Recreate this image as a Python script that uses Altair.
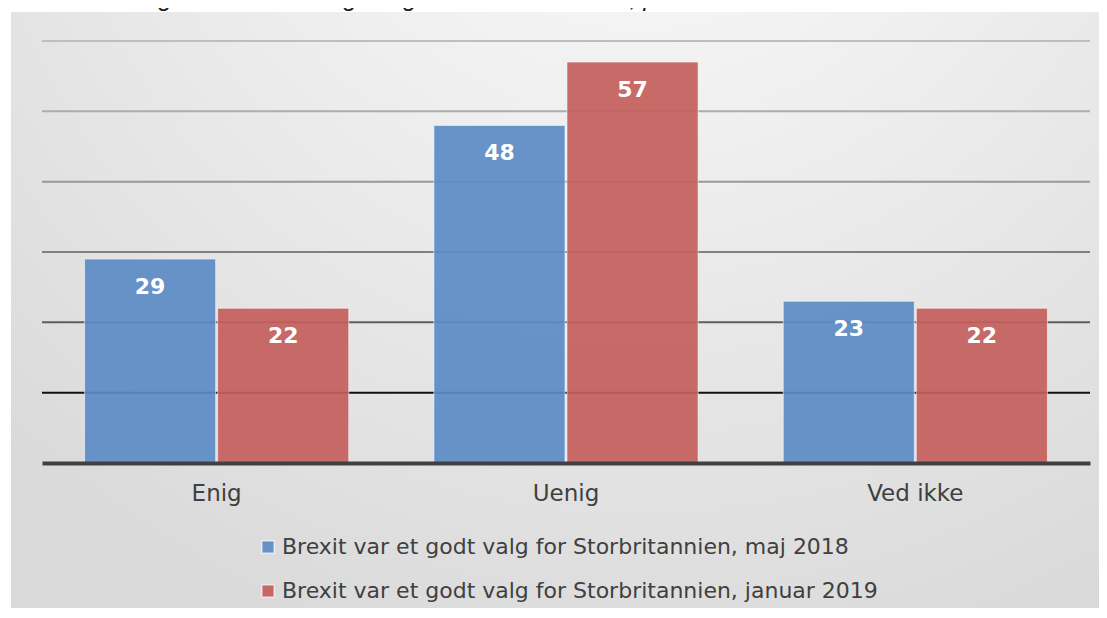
import altair as alt
import pandas as pd

title_text = "Var Brexit et godt eller et dårligt valg for Storbritannien?, pct."
categories = ["Enig", "Uenig", "Ved ikke"]
series = [
    "Brexit var et godt valg for Storbritannien, maj 2018",
    "Brexit var et godt valg for Storbritannien, januar 2019",
]
maj2018 = [29, 48, 23]
jan2019 = [22, 57, 22]
grid_values = [10, 20, 30, 40, 50, 60]
grid_colors = ["#111111", "#5e5e5e", "#808080", "#989898", "#adadad", "#bebebe"]
bar_colors = ["#5b8bc5", "#c45e5b"]

rows = []
for i, c in enumerate(categories):
    rows.append({"kategori": c, "serie": series[0], "pct": maj2018[i]})
    rows.append({"kategori": c, "serie": series[1], "pct": jan2019[i]})
df = pd.DataFrame(rows)
grid_df = pd.DataFrame({"v": grid_values, "c": grid_colors})

W, H = 1048, 422
yscale = alt.Scale(domain=[0, 60], nice=False)
xscale = alt.Scale(domain=categories, paddingInner=0, paddingOuter=0)
xoff = alt.XOffset("serie:N", sort=series,
                   scale=alt.Scale(domain=series, paddingInner=0.015, paddingOuter=0.32))

title_layer = alt.Chart(pd.DataFrame({"t": [title_text]})).mark_text(
    align="left", baseline="alphabetic", font="Liberation Sans", fontStyle="italic",
    fontSize=25, color="#222222"
).encode(x=alt.value(-27), y=alt.value(-35), text="t:N")

panel = alt.Chart(pd.DataFrame({"a": [0]})).mark_rect(
    fill={
        "gradient": "radial",
        "x1": 0.58, "y1": 0.0, "r1": 0,
        "x2": 0.58, "y2": 0.0, "r2": 0.85,
        "stops": [
            {"offset": 0, "color": "#fbfbfb"},
            {"offset": 0.35, "color": "#f1f1f1"},
            {"offset": 1, "color": "#dadada"},
        ],
    }
).encode(x=alt.value(-31), x2=alt.value(1057), y=alt.value(-29), y2=alt.value(567))

grid = alt.Chart(grid_df).mark_rule(strokeWidth=2).encode(
    y=alt.Y("v:Q", scale=yscale, axis=None),
    x=alt.value(0), x2=alt.value(W),
    color=alt.Color("c:N", scale=None),
)

bars = alt.Chart(df).mark_bar(
    fillOpacity=0.92, stroke="#ffffff", strokeOpacity=0.55, strokeWidth=1
).encode(
    x=alt.X("kategori:N", sort=categories, scale=xscale, title=None,
            axis=alt.Axis(labelAngle=0, labelFont="DejaVu Sans", labelFontSize=23,
                          labelColor="#404040", labelPadding=19, ticks=False,
                          domainColor="#404040", domainWidth=4, grid=False, zindex=1)),
    xOffset=xoff,
    y=alt.Y("pct:Q", scale=yscale, axis=None),
    color=alt.Color("serie:N", title=None,
                    scale=alt.Scale(domain=series, range=bar_colors),
                    legend=alt.Legend(orient="none", legendX=215, legendY=495,
                                      direction="vertical", symbolType="square",
                                      symbolSize=150, symbolStrokeColor="#ffffff",
                                      symbolStrokeWidth=1, symbolOpacity=0.92,
                                      labelFont="DejaVu Sans", labelFontSize=22,
                                      labelColor="#404040", labelOffset=3,
                                      rowPadding=22, labelLimit=800)),
)

labels = alt.Chart(df).mark_text(
    color="white", font="DejaVu Sans", fontWeight="bold", fontSize=22,
    baseline="middle", dy=28
).encode(
    x=alt.X("kategori:N", sort=categories, scale=xscale),
    xOffset=xoff,
    y=alt.Y("pct:Q", scale=yscale),
    text="pct:Q",
)

chart = alt.layer(title_layer, panel, grid, bars, labels).resolve_scale(
    color="independent"
).properties(
    width=W, height=H,
    autosize=alt.AutoSizeParams(type="none"),
    padding={"left": 34, "top": 33, "right": 9, "bottom": 145},
).configure_view(stroke=None).configure(background="white")

chart.save("out.html", embed_options={"renderer": "svg", "actions": False})
